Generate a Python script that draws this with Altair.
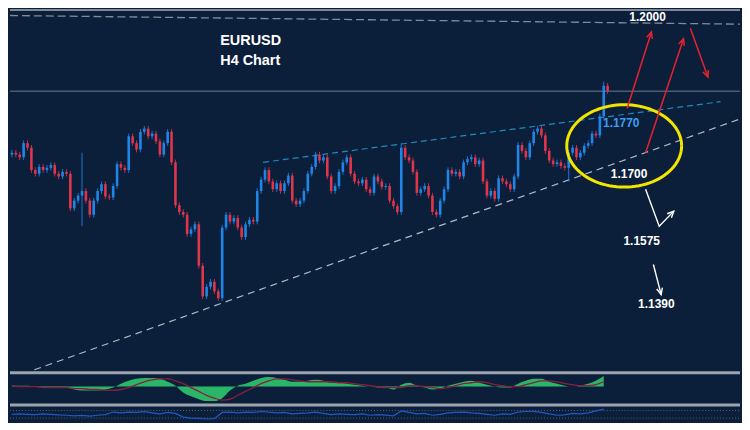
import math
import pandas as pd
import altair as alt

# ---------------- colours ----------------
BG = "#0b1f3b"
BLUE = "#1f86e8"
RED = "#e0354a"
SEP = "#9aa3ae"

# ---------------- data ----------------
# H4 closes (EURUSD), left to right
closes = [
    1.1710, 1.1706, 1.1700, 1.1731, 1.1721, 1.1672, 1.1664, 1.1679, 1.1672, 1.1677,
    1.1683, 1.1664, 1.1658, 1.1668, 1.1664, 1.1588, 1.1605, 1.1616, 1.1626, 1.1605,
    1.1574, 1.1605, 1.1626, 1.1641, 1.1614, 1.1612, 1.1637, 1.1685, 1.1677, 1.1672,
    1.1746, 1.1731, 1.1717, 1.1756, 1.1763, 1.1746, 1.1752, 1.1735, 1.1706, 1.1731,
    1.1756, 1.1689, 1.1595, 1.1580, 1.1574, 1.1532, 1.1542, 1.1553, 1.1462, 1.1395,
    1.1416, 1.1427, 1.1406, 1.1391, 1.1546, 1.1574, 1.1559, 1.1567, 1.1546, 1.1525,
    1.1553, 1.1563, 1.1559, 1.1626, 1.1651, 1.1672, 1.1647, 1.1630, 1.1643, 1.1626,
    1.1643, 1.1660, 1.1605, 1.1597, 1.1605, 1.1626, 1.1664, 1.1679, 1.1706, 1.1693,
    1.1700, 1.1658, 1.1626, 1.1637, 1.1668, 1.1689, 1.1700, 1.1664, 1.1647, 1.1643,
    1.1651, 1.1630, 1.1622, 1.1658, 1.1647, 1.1635, 1.1637, 1.1605, 1.1593, 1.1580,
    1.1721, 1.1700, 1.1693, 1.1668, 1.1622, 1.1630, 1.1637, 1.1616, 1.1580, 1.1574,
    1.1605, 1.1630, 1.1672, 1.1664, 1.1668, 1.1658, 1.1689, 1.1696, 1.1700, 1.1685,
    1.1693, 1.1647, 1.1616, 1.1626, 1.1609, 1.1654, 1.1647, 1.1641, 1.1630, 1.1658,
    1.1727, 1.1714, 1.1700, 1.1731, 1.1756, 1.1763, 1.1748, 1.1714, 1.1693, 1.1685,
    1.1689, 1.1681, 1.1677, 1.1710, 1.1721, 1.1700, 1.1710, 1.1725, 1.1731, 1.1752,
    1.1748, 1.1790, 1.1857, 1.1845,
]
first_open = 1.1706
wick = 0.0006
high_override = {18: 1.1710, 100: 1.1731, 152: 1.1866}
low_override = {18: 1.1549, 143: 1.1647}

# MACD histogram / signal (every second bar)
macd_hist = [
    1, 1, 1, 0, -1, -1, -1, -1, -3, -4,
    -4, -4, -3, -1, 3, 6, 8, 9, 9, 8,
    5, 1, -6, -10, -13, -15, -15, -12, -4, 1,
    3, 6, 9, 10, 9, 7, 5, 5, 6, 7,
    6, 4, 4, 3, 2, 1, 0, -1, -1, -3,
    2, 4, 1, -1, -3, -2, 1, 3, 5, 6,
    4, 2, 0, -1, -1, 3, 6, 8, 8, 5,
    3, 1, 0, 1, 3, 6, 11,
]
macd_signal = [
    1, 0, 0, 0, -1, -1, -1, -1, -2, -2,
    -3, -3, -4, -4, -3, -1, 2, 5, 7, 8,
    8, 6, 3, -1, -5, -9, -12, -14, -13, -9,
    -5, -1, 3, 6, 8, 8, 7, 6, 5, 5,
    5, 5, 4, 4, 3, 2, 1, 0, -1, -1,
    -1, 1, 1, 0, -1, -2, -1, 1, 3, 4,
    5, 4, 2, 1, 0, 0, 2, 4, 6, 6,
    5, 3, 2, 1, 1, 2, 5,
]
# oscillator (every second bar)
rsi = [
    50, 52, 50, 48, 52, 50, 47, 45, 42, 44,
    40, 45, 48, 62, 58, 62, 60, 64, 58, 52,
    60, 55, 35, 30, 28, 25, 27, 60, 62, 58,
    62, 60, 65, 62, 58, 60, 52, 55, 58, 62,
    55, 48, 52, 50, 48, 52, 45, 48, 46, 42,
    68, 60, 52, 55, 45, 50, 58, 60, 62, 58,
    55, 50, 45, 52, 50, 62, 65, 66, 60, 52,
    45, 47, 55, 52, 58, 68, 78,
]
rsi_levels = [70, 30]

# annotation levels / trendlines (bar index, price)
level_1200 = [(-0.5, 1.2011), (187, 1.1992)]
upper_trend = [(64.5, 1.1689), (182, 1.1822)]
lower_trend = [(5.75, 1.1234), (187, 1.1784)]
ellipse_center = (157.25, 1.1725)
ellipse_radii = (14.75, 0.00903)
red_arrows = [
    [(158.0, 1.1807), (164.25, 1.1975)],
    [(162.75, 1.1710), (172.5, 1.1960)],
    [(174.25, 1.1983), (178.75, 1.1876)],
]
white_arrows = [
    [(162.75, 1.1630), (166.25, 1.1549), (170.0, 1.1582)],
    [(164.75, 1.1465), (166.75, 1.1399)],
]
white_labels = ["1.2000", "1.1700", "1.1575", "1.1390"]
white_label_pos = [(163.25, 1.2008), (158.5, 1.1664), (161.75, 1.1517), (165.5, 1.1379)]
blue_label = "1.1770"
blue_label_pos = (156.5, 1.1775)
titles = ["EURUSD", "H4 Chart"]
title_pos = [(53.5, 1.1954), (53.5, 1.1912)]

# ---------------- layout ----------------
W = 734
H_MAIN, H_MACD, H_RSI = 364, 33, 17
XDOM = [-0.5, 187]
YDOM = [1.1231, 1.2025]
xs = alt.Scale(domain=XDOM, nice=False, zero=False)
ys = alt.Scale(domain=YDOM, nice=False, zero=False)
PX_X = W / (XDOM[1] - XDOM[0])
PX_Y = H_MAIN / (YDOM[1] - YDOM[0])
FONT = "Liberation Sans"
HEAD = "M -0.45 1 L 0 0 L 0.45 1"


def X(f="x"):
    return alt.X(f"{f}:Q", scale=xs, axis=None)


def Y(f="y"):
    return alt.Y(f"{f}:Q", scale=ys, axis=None)


# candles
opens = [first_open] + closes[:-1]
rows = []
for i, (o, c) in enumerate(zip(opens, closes)):
    rows.append(dict(
        x=i, open=o, close=c,
        high=high_override.get(i, max(o, c) + wick),
        low=low_override.get(i, min(o, c) - wick),
        dir="up" if c >= o else "down",
    ))
cdf = pd.DataFrame(rows)
ccol = alt.Color("dir:N", scale=alt.Scale(domain=["up", "down"], range=[BLUE, RED]), legend=None)

wicks = alt.Chart(cdf).mark_rule(strokeWidth=1, opacity=0.85).encode(
    x=X(), y=Y("low"), y2="high:Q", color=ccol)
bodies = alt.Chart(cdf).mark_rule(strokeWidth=2.6, strokeCap="butt").encode(
    x=X(), y=Y("open"), y2="close:Q", color=ccol)


def seg_df(pts):
    return pd.DataFrame({"x": [p[0] for p in pts], "y": [p[1] for p in pts], "o": list(range(len(pts)))})


top_rule = alt.Chart(pd.DataFrame({"a": [0]})).mark_rule(color="#7d8898", strokeWidth=2).encode(
    y=alt.value(1), x=alt.value(0), x2=alt.value(W))
price_line = alt.Chart(pd.DataFrame({"y": [closes[-1]]})).mark_rule(color="#4a5b72", strokeWidth=1.6).encode(
    y=Y(), x=alt.value(0), x2=alt.value(W))
l1200 = alt.Chart(seg_df(level_1200)).mark_line(color="#7f8c9c", strokeWidth=1.3, strokeDash=[8, 4], clip=True).encode(
    x=X(), y=Y(), order="o:Q")
ut = alt.Chart(seg_df(upper_trend)).mark_line(color="#1d8cc0", strokeWidth=1.2, strokeDash=[6, 4], clip=True).encode(
    x=X(), y=Y(), order="o:Q")
lt = alt.Chart(seg_df(lower_trend)).mark_line(color="#b2bac5", strokeWidth=1.2, strokeDash=[7, 5], clip=True).encode(
    x=X(), y=Y(), order="o:Q")

# ellipse outline
n = 96
cx, cy = ellipse_center
rx, ry = ellipse_radii
ell = pd.DataFrame({
    "o": list(range(n + 1)),
    "x": [cx + rx * math.cos(2 * math.pi * k / n) for k in range(n + 1)],
    "y": [cy + ry * math.sin(2 * math.pi * k / n) for k in range(n + 1)],
})
ellipse = alt.Chart(ell).mark_line(color="#f2e600", strokeWidth=3).encode(x=X(), y=Y(), order="o:Q")


def arrows_layer(arrows, color, width):
    lines, heads = [], []
    for a_id, poly in enumerate(arrows):
        for k, (px, py) in enumerate(poly):
            lines.append(dict(id=a_id, o=k, x=px, y=py))
        (x1, y1), (x2, y2) = poly[-2], poly[-1]
        dx = (x2 - x1) * PX_X
        dy = -(y2 - y1) * PX_Y
        ang = math.degrees(math.atan2(dx, -dy)) % 360
        heads.append(dict(x=x2, y=y2, angle=ang))
    ln = alt.Chart(pd.DataFrame(lines)).mark_line(color=color, strokeWidth=width).encode(
        x=X(), y=Y(), detail="id:N", order="o:Q")
    hd = alt.Chart(pd.DataFrame(heads)).mark_point(
        shape=HEAD, filled=False, size=170, strokeWidth=width, color=color, opacity=1).encode(
        x=X(), y=Y(), angle=alt.Angle("angle:Q", scale=None))
    return ln + hd


red_arr = arrows_layer(red_arrows, "#e8222c", 1.5)
white_arr = arrows_layer(white_arrows, "#ffffff", 1.4)

wl = pd.DataFrame({"t": white_labels, "x": [p[0] for p in white_label_pos], "y": [p[1] for p in white_label_pos]})
wtext = alt.Chart(wl).mark_text(font=FONT, fontWeight="bold", fontSize=12, color="#ffffff",
                                align="center", baseline="middle").encode(x=X(), y=Y(), text="t:N")
bl = pd.DataFrame({"t": [blue_label], "x": [blue_label_pos[0]], "y": [blue_label_pos[1]]})
btext = alt.Chart(bl).mark_text(font=FONT, fontWeight="bold", fontSize=12, color="#3d9df3",
                                align="center", baseline="middle").encode(x=X(), y=Y(), text="t:N")
tl = pd.DataFrame({"t": titles, "x": [p[0] for p in title_pos], "y": [p[1] for p in title_pos]})
ttext = alt.Chart(tl).mark_text(font=FONT, fontWeight="bold", fontSize=14.5, color="#ffffff",
                                align="left", baseline="middle").encode(x=X(), y=Y(), text="t:N")

main = alt.layer(
    top_rule, price_line, l1200, ut, lt, wicks, bodies, ellipse, red_arr, white_arr, wtext, btext, ttext
).properties(width=W, height=H_MAIN)

# MACD panel
mdf = pd.DataFrame({"x": [2 * j for j in range(len(macd_hist))], "h": macd_hist})
sdf = pd.DataFrame({"x": [2 * j for j in range(len(macd_signal))], "s": macd_signal})
mys = alt.Scale(domain=[-18, 16], nice=False, zero=False)
sep1 = alt.Chart(pd.DataFrame({"a": [0]})).mark_rule(color=SEP, strokeWidth=3).encode(
    y=alt.value(1.5), x=alt.value(0), x2=alt.value(W))
hist = alt.Chart(mdf).mark_area(color="#2bbf6a", interpolate="monotone", opacity=0.95).encode(
    x=X(), y=alt.Y("h:Q", scale=mys, axis=None), y2=alt.datum(0))
sig = alt.Chart(sdf).mark_line(color="#8c1d3d", strokeWidth=1.3, interpolate="monotone").encode(
    x=X(), y=alt.Y("s:Q", scale=mys, axis=None))
macd = alt.layer(hist, sig, sep1).properties(width=W, height=H_MACD)

# oscillator panel
rdf = pd.DataFrame({"x": [2 * j for j in range(len(rsi))], "r": rsi})
rys = alt.Scale(domain=[15, 105], nice=False, zero=False)
sep2 = alt.Chart(pd.DataFrame({"a": [0]})).mark_rule(color=SEP, strokeWidth=3).encode(
    y=alt.value(1), x=alt.value(0), x2=alt.value(W))
lv = alt.Chart(pd.DataFrame({"r": rsi_levels})).mark_rule(color="#55647a", strokeWidth=1, strokeDash=[1, 2]).encode(
    y=alt.Y("r:Q", scale=rys, axis=None), x=alt.value(0), x2=alt.value(W))
rl = alt.Chart(rdf).mark_line(color="#2457c5", strokeWidth=1.2).encode(
    x=X(), y=alt.Y("r:Q", scale=rys, axis=None))
osc = alt.layer(lv, rl, sep2).properties(width=W, height=H_RSI)

chart = alt.vconcat(main, macd, osc, spacing=0).properties(
    padding=0, background=BG, bounds="flush"
).configure_view(stroke=None).configure_concat(spacing=0)

chart.save("out.html", embed_options={"renderer": "svg", "actions": False})
